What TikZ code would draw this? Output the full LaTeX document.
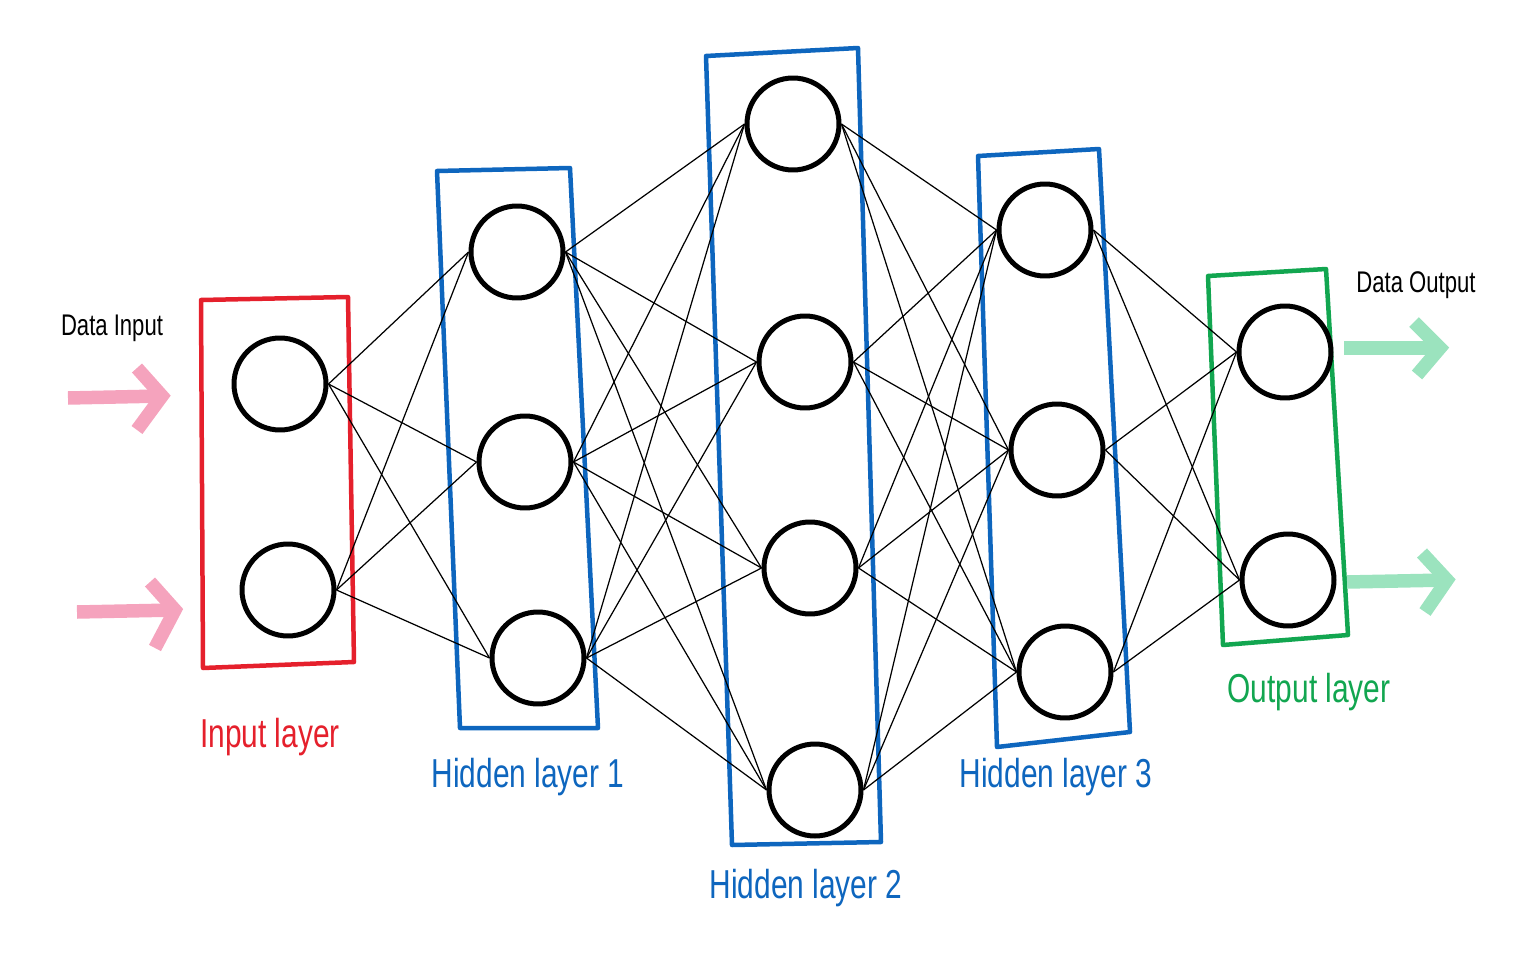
\documentclass[tikz,border=0pt]{standalone}
\usepackage{fontspec}
\setmainfont{Liberation Sans}
\definecolor{inred}{HTML}{E5202C}
\definecolor{hblue}{HTML}{0E66BE}
\definecolor{ogreen}{HTML}{12A650}
\definecolor{apink}{HTML}{F5A3BD}
\definecolor{agreen}{HTML}{9BE3BE}
\newcommand{\hwtext}[1]{\scalebox{0.74}[1.0]{#1}}
\begin{document}
\begin{tikzpicture}[x=0.02cm,y=-0.02cm,
  neuron/.style={circle,draw=black,line width=0.1cm,minimum size=1.84cm,inner sep=0pt,fill=none},
  link/.style={draw=black,line width=0.7pt},
  layerbox/.style={line width=0.09cm,line join=round},
  lbl/.style={font=\fontsize{23}{26}\selectfont,inner sep=0pt},
  bigarrow/.style={line width=0.27cm,line cap=butt,line join=miter}]
\useasboundingbox (0,0) rectangle (1525,953);

% boxes
\draw[layerbox,inred] (201,300) -- (348,297) -- (354,662) -- (203,668) -- cycle;
\draw[layerbox,hblue] (437,171) -- (570,168) -- (598,728) -- (460,728) -- cycle;
\draw[layerbox,hblue] (706,56) -- (858,48) -- (881,842) -- (732,845) -- cycle;
\draw[layerbox,hblue] (978,156) -- (1099,149) -- (1130,732) -- (997,747) -- cycle;
\draw[layerbox,ogreen] (1208,276) -- (1326,269) -- (1348,635) -- (1223,645) -- cycle;

% neurons
\node[neuron] (i1) at (280,384) {};
\node[neuron] (i2) at (288,590) {};
\node[neuron] (a1) at (517,252) {};
\node[neuron] (a2) at (525,462) {};
\node[neuron] (a3) at (538,658) {};
\node[neuron] (b1) at (793,124) {};
\node[neuron] (b2) at (805,362) {};
\node[neuron] (b3) at (810,568) {};
\node[neuron] (b4) at (815,790) {};
\node[neuron] (c1) at (1045,230) {};
\node[neuron] (c2) at (1057,450) {};
\node[neuron] (c3) at (1065,672) {};
\node[neuron] (o1) at (1285,352) {};
\node[neuron] (o2) at (1288,580) {};

% links
\foreach \s in {i1,i2}{\foreach \t in {a1,a2,a3}{\draw[link] (\s.east) -- (\t.west);}}
\foreach \s in {a1,a2,a3}{\foreach \t in {b1,b2,b3,b4}{\draw[link] (\s.east) -- (\t.west);}}
\foreach \s in {b1,b2,b3,b4}{\foreach \t in {c1,c2,c3}{\draw[link] (\s.east) -- (\t.west);}}
\foreach \s in {c1,c2,c3}{\foreach \t in {o1,o2}{\draw[link] (\s.east) -- (\t.west);}}

% input arrows
\coordinate (p1s) at (68,398); \coordinate (p1e) at (163,396);
\coordinate (p2s) at (77,612); \coordinate (p2e) at (176,610);
\draw[bigarrow,apink] (p1s) -- (p1e);
\draw[bigarrow,apink] (137,368) -- (162,396) -- (137,430);
\draw[bigarrow,apink] (p2s) -- (p2e);
\draw[bigarrow,apink] (150,582) -- (175,610) -- (155,648);
% output arrows
\coordinate (q1s) at (1344,348); \coordinate (q1e) at (1442,348);
\coordinate (q2s) at (1347,582); \coordinate (q2e) at (1448,580);
\draw[bigarrow,agreen] (q1s) -- (q1e);
\draw[bigarrow,agreen] (1414,322) -- (1440,348) -- (1417,375);
\draw[bigarrow,agreen] (q2s) -- (q2e);
\draw[bigarrow,agreen] (1422,553) -- (1447,580) -- (1425,612);

% labels
\node[lbl,text=inred] (ltin) at (270,737) {\hwtext{Input layer}};
\node[lbl,text=hblue] (lth1) at (528,777) {\hwtext{Hidden layer 1}};
\node[lbl,text=hblue] (lth2) at (806,888) {\hwtext{Hidden layer 2}};
\node[lbl,text=hblue] (lth3) at (1056,777) {\hwtext{Hidden layer 3}};
\node[lbl,text=ogreen] (ltout) at (1309,692) {\hwtext{Output layer}};
\node[lbl,text=black,font=\fontsize{17}{19}\selectfont] (ltdi) at (112,328) {\hwtext{Data Input}};
\node[lbl,text=black,font=\fontsize{17}{19}\selectfont] (ltdo) at (1416,285) {\hwtext{Data Output}};
\end{tikzpicture}
\end{document}
